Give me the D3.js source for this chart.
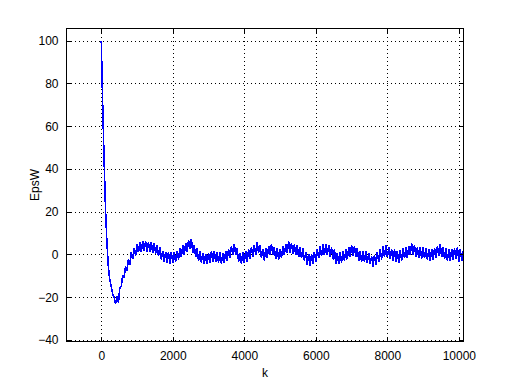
<!DOCTYPE html>
<html>
<head>
<meta charset="utf-8">
<script src="https://cdn.jsdelivr.net/npm/d3@7/dist/d3.min.js"></script>
<style>
  html, body { margin: 0; padding: 0; background: #fff; }
  svg { display: block; }
  text { font-family: "Liberation Sans", Arial, Helvetica, sans-serif; font-size: 12px; fill: #000; }
</style>
</head>
<body>
<svg id="chart" width="512" height="384"></svg>
<script>
// ---- data ----
const kStart = 0;
const kStep = 40;
const epsW = [
  100, 70, 44, 21, 5, -6, -12, -15, -18.5, -20,
  -23, -19.5, -22.5, -15.5, -15, -9.5, -11, -5.5, -7.5, -2,
  -5, 1, -2, 3.2, -0.5, 4.8, 1, 5.6, 1.3, 6.3,
  1.7, 6.3, 1.2, 5.8, 1.4, 5.6, 0.7, 5.3, 0.4, 4.3,
  -0.8, 3.3, -2.3, 1.8, -3.6, 1.3, -3.8, 1, -4.3, 1.3,
  -3.8, 1.1, -3.3, 1.8, -2.3, 2.8, -1.3, 4.3, -0.3, 5.3,
  1.2, 6.8, 2.7, 7.3, 0.7, 4.3, -1.3, 2.8, -3, 1.6,
  -3.8, 0.8, -4.3, 0.3, -4.6, 0.8, -3.8, 1.6, -3.3, 1.8,
  -3.6, 1.3, -3.8, 1.1, -4.3, 0.8, -3.8, 1.8, -2.8, 2.6,
  -1.8, 3.8, -0.3, 5, -0.3, 2.8, -3.3, 0.8, -4.3, 1.3,
  -3.8, 1.8, -3.3, 2.3, -2, 3.3, -1.3, 4.3, 0, 5.8,
  0.7, 4.3, -1.6, 2.3, -2.8, 2.8, -1.8, 4, -0.3, 4.8,
  -0.3, 3.3, -2.3, 2.8, -2.3, 2.3, -1.8, 3.8, -0.3, 4.8,
  0.7, 6.3, 0.7, 5.3, 0.2, 4.8, -0.3, 4.3, -1.3, 3.3,
  -1.8, 2.8, -2.8, 1.3, -4.8, 0.3, -5.3, 0.3, -4.3, 1.3,
  -3.3, 2.3, -1.8, 3.8, -0.8, 4.8, -0.3, 5, 0, 4.3,
  -1.3, 3.3, -2.3, 2.3, -4.3, 0.8, -4.3, 1.3, -3.8, 1.8,
  -2.8, 2.3, -2.3, 3.3, -1.3, 4.3, -0.8, 4, -1.3, 3,
  -2.8, 1.8, -3.3, 1.6, -3.6, 1.8, -3.8, 0.8, -4.6, -0.7,
  -5.8, -0.2, -4.8, 1.3, -3.6, 2.3, -2.3, 3.8, -1, 4.3,
  -1.3, 3.3, -2.3, 2.6, -2.8, 2.3, -3.3, 1.8, -3.8, 2,
  -2.8, 2.8, -1.8, 3.3, -1.8, 3.8, -0.3, 5.3, -0.3, 4.3,
  -1.3, 3.3, -1.8, 3.3, -2, 3.6, -1.8, 2.8, -2.3, 2.3,
  -2.8, 2.6, -2.6, 3, -1.8, 3.8, -0.8, 4.8, -1.3, 3.3,
  -2, 2.8, -2.8, 2.3, -3, 2.6, -2.6, 2.8, -2.3, 3.3,
  -3.3, 2.3, -2.8, 1.8
];
const xTicks = [0, 2000, 4000, 6000, 8000, 10000];
const yTicks = [-40, -20, 0, 20, 40, 60, 80, 100];
const xDomain = [-972, 10130];
const yDomain = [-40.7, 105.7];
const xLabel = "k";
const yLabel = "EpsW";

// ---- layout ----
const svg = d3.select("#chart");
const L = 66.5, R = 463.5, T = 28.5, B = 341.5;

const x = d3.scaleLinear().domain(xDomain).range([L, R]);
const y = d3.scaleLinear().domain(yDomain).range([B, T]);

const points = epsW.map((v, i) => ({ k: kStart + i * kStep, v }));

// grid
const grid = svg.append("g").attr("shape-rendering", "crispEdges");
grid.selectAll("line.gx").data(xTicks).join("line")
  .attr("x1", d => Math.round(x(d)) + 0.5).attr("x2", d => Math.round(x(d)) + 0.5)
  .attr("y1", T).attr("y2", B)
  .attr("stroke", "#000").attr("stroke-width", 1).attr("stroke-dasharray", "1,3");
grid.selectAll("line.gy").data(yTicks).join("line")
  .attr("y1", d => Math.round(y(d)) + 0.5).attr("y2", d => Math.round(y(d)) + 0.5)
  .attr("x1", L).attr("x2", R)
  .attr("stroke", "#000").attr("stroke-width", 1).attr("stroke-dasharray", "1,3");

// clip
svg.append("clipPath").attr("id", "clip").append("rect")
  .attr("x", L).attr("y", T).attr("width", R - L).attr("height", B - T);

// data line
const line = d3.line().x(d => x(d.k)).y(d => y(d.v));
svg.append("path").datum(points)
  .attr("clip-path", "url(#clip)")
  .attr("d", line)
  .attr("fill", "none").attr("stroke", "#0000ff").attr("stroke-width", 1.6)
  .attr("stroke-linejoin", "bevel")
  .attr("shape-rendering", "crispEdges");

// axes (ticks inside, on all four sides)
const tl = 4;
const axB = d3.axisBottom(x).tickValues(xTicks).tickSize(-tl).tickPadding(tl + 6).tickFormat(d3.format("d"));
const axT = d3.axisTop(x).tickValues(xTicks).tickSize(-tl).tickFormat("");
const axLft = d3.axisLeft(y).tickValues(yTicks).tickSize(-tl).tickPadding(tl + 4).tickFormat(d3.format("d"));
const axRt = d3.axisRight(y).tickValues(yTicks).tickSize(-tl).tickFormat("");

function style(g) {
  g.attr("shape-rendering", "crispEdges");
  g.select(".domain").remove();
  g.selectAll(".tick line").attr("stroke", "#000");
  g.selectAll(".tick text").attr("font-family", "Liberation Sans, Arial, sans-serif").attr("font-size", 12).attr("fill", "#000");
}
svg.append("g").attr("transform", `translate(0,${B})`).call(axB).call(style);
svg.append("g").attr("transform", `translate(0,${T})`).call(axT).call(style);
svg.append("g").attr("transform", `translate(${L},0)`).call(axLft).call(style);
svg.append("g").attr("transform", `translate(${R},0)`).call(axRt).call(style);

// box
svg.append("rect").attr("x", L).attr("y", T).attr("width", R - L).attr("height", B - T)
  .attr("fill", "none").attr("stroke", "#000").attr("stroke-width", 1)
  .attr("shape-rendering", "crispEdges");

// labels
svg.append("text").attr("x", (L + R) / 2).attr("y", 377).attr("text-anchor", "middle").text(xLabel);
svg.append("text").attr("transform", `translate(39,${(T + B) / 2}) rotate(-90)`)
  .attr("text-anchor", "middle").text(yLabel);
</script>
</body>
</html>
